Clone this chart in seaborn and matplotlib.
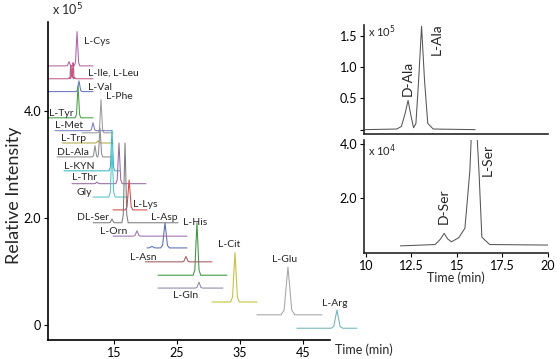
import numpy as np
import pandas as pd

import matplotlib
matplotlib.use('Agg')
import matplotlib.pyplot as plt
import seaborn as sns

# Stacked chromatograms (main panel), time in min, intensity in x10^5
trace_names = ['L-Cys', 'L-Ile, L-Leu', 'L-Val', 'L-Phe', 'L-Tyr', 'L-Met', 'L-Trp',
               'DL-Ala', 'L-KYN', 'L-Thr', 'Gly', 'L-Lys', 'DL-Ser', 'L-Asp', 'L-Orn',
               'L-His', 'L-Asn', 'L-Cit', 'L-Gln', 'L-Glu', 'L-Arg']
trace_colors = ['#b062a8', '#c25a84', '#6673c2', '#9b9b9b', '#44a044', '#7a7ec4', '#b4a84a',
                '#8c8c8c', '#3bb5c0', '#9c68a6', '#55c4cc', '#d24a4a', '#7c7c7c', '#5a6cb4',
                '#a070b0', '#3c963c', '#a05a5a', '#c4be3a', '#8a8aa8', '#a4a4a4', '#6fb3bb']
baselines = [4.84, 4.60, 4.36, 3.59, 3.87, 3.63, 3.40, 3.14, 2.88, 2.64, 2.39, 2.15,
             1.91, 1.44, 1.66, 0.93, 1.18, 0.43, 0.69, 0.19, -0.06]
start_times = [4.52, 4.52, 4.52, 9.92, 4.52, 5.63, 6.75, 5.95, 7.06, 8.33, 11.67, 14.84,
               11.67, 20.24, 14.84, 21.98, 20.0, 30.56, 21.98, 37.70, 44.05]
end_times = [11.67, 11.67, 11.67, 14.84, 11.67, 14.68, 14.84, 14.84, 16.0, 20.08, 17.22, 20.24,
             25.16, 26.59, 26.59, 32.94, 30.56, 37.70, 32.30, 48.02, 53.57]
peak_times = [[7.86, 9.13], [8.17, 8.49], [9.44], [12.94], [9.29], [11.67], [12.46],
              [11.98, 12.78], [14.68], [12.30, 15.79], [14.68], [17.4], [14.68, 16.75],
              [21.03, 23.10], [18.65], [28.17], [26.43], [34.21], [28.49], [42.62], [50.40]]
peak_tops = [[4.92, 5.48], [4.85, 4.90], [4.56], [4.21], [4.47], [3.78], [3.44],
             [3.35, 3.68], [3.64], [2.67, 3.40], [3.27], [2.71], [1.98, 3.40],
             [1.47, 1.91], [1.76], [1.91], [1.28], [1.35], [0.80], [1.08], [0.28]]
peak_widths = [0.45, 0.45, 0.5, 0.45, 0.45, 0.5, 0.5, 0.45, 0.45, 0.5, 0.5, 0.6, 0.5,
               0.7, 0.6, 0.6, 0.6, 0.7, 0.6, 1.1, 0.9]

# label anchor (left edge, vertical centre)
label_x = [10.24, 10.87, 10.87, 13.73, 4.68, 5.63, 6.59, 5.95, 7.06, 8.33, 8.97, 18.02,
           9.13, 20.87, 12.78, 25.95, 17.54, 31.51, 24.37, 40.08, 48.02]
label_y = [5.29, 4.71, 4.43, 4.26, 3.96, 3.72, 3.48, 3.23, 2.97, 2.75, 2.47, 2.26,
           2.00, 2.00, 1.74, 1.91, 1.27, 1.51, 0.56, 1.23, 0.41]

# Inset: DL-Ala (x10^5)
ala_time = [9.95, 11.7, 11.95, 12.15, 12.32, 12.48, 12.62, 12.75, 12.9, 13.06, 13.22, 13.4, 13.7, 16.0]
ala_signal = [0.0, 0.01, 0.05, 0.25, 0.47, 0.22, 0.03, 0.1, 0.8, 1.66, 0.8, 0.1, 0.01, 0.0]

# Inset: DL-Ser (x10^4)
ser_time = [11.9, 13.8, 14.1, 14.3, 14.5, 14.7, 15.1, 15.44, 15.71, 15.93, 16.21, 16.37, 16.8, 20.0]
ser_signal = [0.25, 0.3, 0.5, 0.71, 0.5, 0.4, 0.55, 0.9, 3.0, 6.5, 3.0, 0.57, 0.3, 0.28]

# relative peak profile (shape only)
profile_offsets = [-1.0, -0.55, -0.25, 0.0, 0.25, 0.55, 1.0]
profile_fracs = [0.0, 0.1, 0.6, 1.0, 0.6, 0.1, 0.0]


def build_traces():
    rows = []
    for i, name in enumerate(trace_names):
        base = baselines[i]
        pts = [(start_times[i], base)]
        for pt, top in zip(peak_times[i], peak_tops[i]):
            for o, f in zip(profile_offsets, profile_fracs):
                pts.append((pt + o * peak_widths[i], base + f * (top - base)))
        pts.append((end_times[i], base))
        pts.sort(key=lambda p: p[0])
        for k, (t, v) in enumerate(pts):
            rows.append({'trace': name, 'order': k, 'time': t, 'signal': v})
    return pd.DataFrame(rows)


def main():
    sns.set_theme(style='ticks')
    plt.rcParams['font.family'] = ['Lato', 'DejaVu Sans']
    plt.rcParams['axes.linewidth'] = 1.2

    fig = plt.figure(figsize=(5.6, 3.59), dpi=100)

    # Main stacked panel
    ax = fig.add_axes([48 / 560, 19 / 359, 282 / 560, 318 / 359])
    df = build_traces()
    sns.lineplot(data=df, x='time', y='signal', hue='trace', units='trace',
                 palette=dict(zip(trace_names, trace_colors)), estimator=None,
                 sort=False, legend=False, linewidth=0.75, clip_on=False, ax=ax)
    for i, name in enumerate(trace_names):
        ax.text(label_x[i], label_y[i], name, fontsize=7.5, va='center', ha='left')

    ax.set_xlim(4.52, 49.3)
    ax.set_ylim(-0.28, 5.66)
    ax.set_xticks([15, 25, 35, 45])
    ax.set_yticks([0, 2, 4])
    ax.set_yticklabels(['0', '2.0', '4.0'])
    ax.set_xlabel('')
    ax.set_ylabel('')
    ax.tick_params(labelsize=9, length=3, width=0.8, colors='black', pad=2)
    sns.despine(ax=ax)
    for s in ['left', 'bottom']:
        ax.spines[s].set_color('black')
    ax.text(5.16, 5.89, r'x 10$^5$', fontsize=9, va='center', ha='left', clip_on=False)
    fig.text(335 / 560, 1 - 350 / 359, 'Time (min)', fontsize=9, va='center', ha='left')
    fig.text(14 / 560, 1 - 195 / 359, 'Relative Intensity', fontsize=13,
             rotation=90, va='center', ha='center')

    # Inset: DL-Ala
    ax1 = fig.add_axes([364 / 560, (359 - 134) / 359, 184 / 560, 109 / 359])
    sns.lineplot(x=ala_time, y=ala_signal, color='#555555', linewidth=0.75,
                 estimator=None, sort=False, ax=ax1)
    ax1.set_xlim(9.9, 20)
    ax1.set_ylim(-0.07, 1.68)
    ax1.set_xticks([])
    ax1.set_yticks([0, 0.5, 1.0, 1.5])
    ax1.set_yticklabels(['', '0.5', '1.0', '1.5'])
    ax1.tick_params(labelsize=9, length=3, width=0.8, colors='black', pad=2)
    sns.despine(ax=ax1)
    ax1.text(10.1, 1.58, r'x 10$^5$', fontsize=8, va='center', ha='left')
    ax1.text(12.32, 0.82, 'D-Ala', fontsize=10, rotation=90, ha='center', va='center')
    ax1.text(13.9, 1.45, 'L-Ala', fontsize=10, rotation=90, ha='center', va='center')

    # Inset: DL-Ser
    ax2 = fig.add_axes([364 / 560, (359 - 252.7) / 359, 184 / 560, 112.7 / 359])
    sns.lineplot(x=ser_time, y=ser_signal, color='#555555', linewidth=0.75,
                 estimator=None, sort=False, ax=ax2)
    ax2.set_xlim(9.9, 20)
    ax2.set_ylim(0, 4.14)
    ax2.set_xticks([10, 12.5, 15, 17.5, 20])
    ax2.set_xticklabels(['10', '12.5', '15', '17.5', '20'])
    ax2.set_yticks([2.0, 4.0])
    ax2.set_yticklabels(['2.0', '4.0'])
    ax2.tick_params(labelsize=9, length=3, width=0.8, colors='black', pad=2)
    ax2.set_xlabel('Time (min)', fontsize=9, labelpad=0)
    sns.despine(ax=ax2)
    ax2.text(10.1, 3.75, r'x 10$^4$', fontsize=8, va='center', ha='left')
    ax2.text(14.3, 1.7, 'D-Ser', fontsize=10, rotation=90, ha='center', va='center')
    ax2.text(16.7, 3.4, 'L-Ser', fontsize=10, rotation=90, ha='center', va='center')

    fig.savefig('out.png', dpi=100)
    plt.close(fig)


if __name__ == '__main__':
    main()
